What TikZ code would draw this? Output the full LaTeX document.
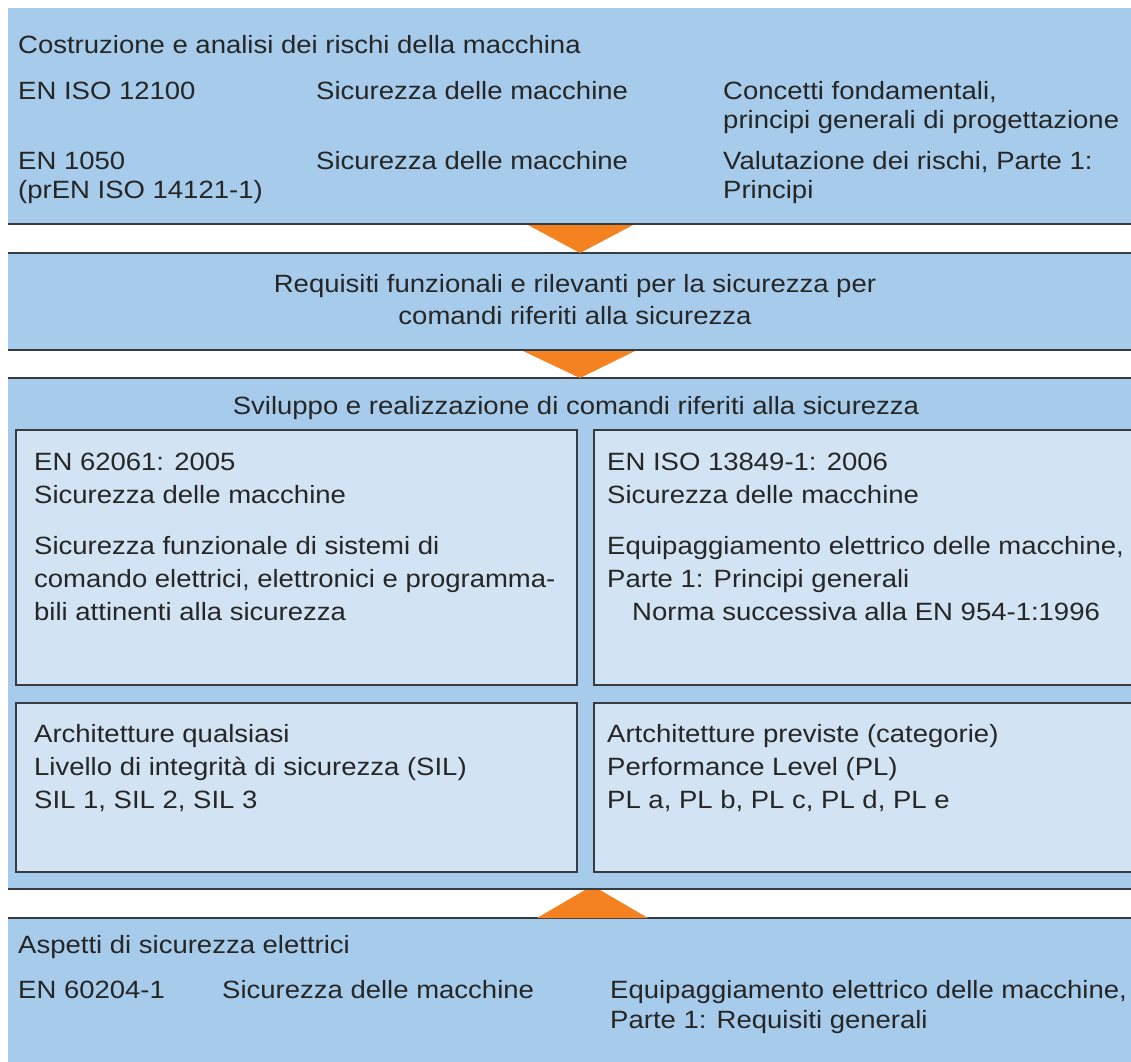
\documentclass[tikz,border=0pt]{standalone}
\usepackage{fontspec}
\setmainfont{Liberation Sans}[FakeStretch=1.1]
\definecolor{bandfill}{RGB}{167,203,235}
\definecolor{boxfill}{RGB}{210,227,244}
\definecolor{arrowfill}{RGB}{245,130,32}
\definecolor{rulegray}{RGB}{55,60,66}

\begin{document}
\begin{tikzpicture}[x=1pt,y=-1pt,line join=miter,
  txt/.style={anchor=base west,inner sep=0pt,font=\fontsize{25}{30}\selectfont,text=black!85},
  ctxt/.style={txt,anchor=base},
  band/.style={fill=bandfill},
  bandline/.style={draw=rulegray,line width=2pt},
  subbox/.style={fill=boxfill,draw=rulegray,line width=1.5pt}]
  \useasboundingbox (0,0) rectangle (1131,1061);
  \clip (0,0) rectangle (1131,1061);

  % bands
  \fill[band] (8,8) rectangle (1140,224);
  \fill[band] (8,253) rectangle (1140,350);
  \fill[band] (8,378) rectangle (1140,889);
  \fill[band] (8,918) rectangle (1140,1070);
  \draw[bandline] (8,224) -- (1140,224);
  \draw[bandline] (8,253) -- (1140,253) (8,350) -- (1140,350);
  \draw[bandline] (8,378) -- (1140,378) (8,889) -- (1140,889);
  \draw[bandline] (8,918) -- (1140,918);

  % arrows between the bands
  \fill[arrowfill] (528,225) -- (633,225) -- (580,253) -- cycle;
  \fill[arrowfill] (523,351) -- (635,351) -- (580,378) -- cycle;
  \fill[arrowfill] (537,918) -- (648,918) -- (600,890) -- (585,890) -- cycle;

  % boxes of the third band
  \filldraw[subbox] (16,430) rectangle (577,685);
  \filldraw[subbox] (594,430) rectangle (1140,685);
  \filldraw[subbox] (16,703) rectangle (577,872);
  \filldraw[subbox] (594,703) rectangle (1140,872);

  % first band
  \node[txt] (costr) at (18,53) {Costruzione e analisi dei rischi della macchina};
  \node[txt] (iso12100) at (18,99) {EN ISO 12100};
  \node[txt] (sic1) at (316,99) {Sicurezza delle macchine};
  \node[txt] (conc) at (723,99) {Concetti fondamentali,};
  \node[txt] (princ) at (723,128) {principi generali di progettazione};
  \node[txt] (en1050) at (18,169) {EN 1050};
  \node[txt] (pren) at (18,198) {(prEN ISO 14121-1)};
  \node[txt] (sic2) at (316,169) {Sicurezza delle macchine};
  \node[txt] (valut) at (723,169) {Valutazione dei rischi, Parte 1:};
  \node[txt] (princ1) at (723,198) {Principi};

  % second band
  \node[ctxt] (requ) at (575,292) {Requisiti funzionali e rilevanti per la sicurezza per};
  \node[ctxt] (coma) at (575,324) {comandi riferiti alla sicurezza};

  % third band
  \node[ctxt] (svil) at (576,414) {Sviluppo e realizzazione di comandi riferiti alla sicurezza};
  \node[txt] (en62061) at (34,470) {EN 62061: 2005};
  \node[txt] (sic3) at (34,503) {Sicurezza delle macchine};
  \node[txt] (funz1) at (34,554) {Sicurezza funzionale di sistemi di};
  \node[txt] (funz2) at (34,587) {comando elettrici, elettronici e programma-};
  \node[txt] (funz3) at (34,620) {bili attinenti alla sicurezza};
  \node[txt] (iso13849) at (607,470) {EN ISO 13849-1: 2006};
  \node[txt] (sic4) at (607,503) {Sicurezza delle macchine};
  \node[txt] (equip1) at (607,554) {Equipaggiamento elettrico delle macchine,};
  \node[txt] (equip2) at (607,587) {Parte 1: Principi generali};
  \node[txt] (norma) at (632,620) {Norma successiva alla EN 954-1:1996};
  \node[txt] (archq) at (34,742) {Architetture qualsiasi};
  \node[txt] (sil) at (34,775) {Livello di integrità di sicurezza (SIL)};
  \node[txt] (sillist) at (34,808) {SIL 1, SIL 2, SIL 3};
  \node[txt] (archp) at (607,742) {Artchitetture previste (categorie)};
  \node[txt] (pl) at (607,775) {Performance Level (PL)};
  \node[txt] (pllist) at (607,808) {PL a, PL b, PL c, PL d, PL e};

  % fourth band
  \node[txt] (aspetti) at (18,953) {Aspetti di sicurezza elettrici};
  \node[txt] (en60204) at (18,998) {EN 60204-1};
  \node[txt] (sic5) at (222,998) {Sicurezza delle macchine};
  \node[txt] (equip3) at (610,998) {Equipaggiamento elettrico delle macchine,};
  \node[txt] (equip4) at (610,1028) {Parte 1: Requisiti generali};
\end{tikzpicture}
\end{document}
